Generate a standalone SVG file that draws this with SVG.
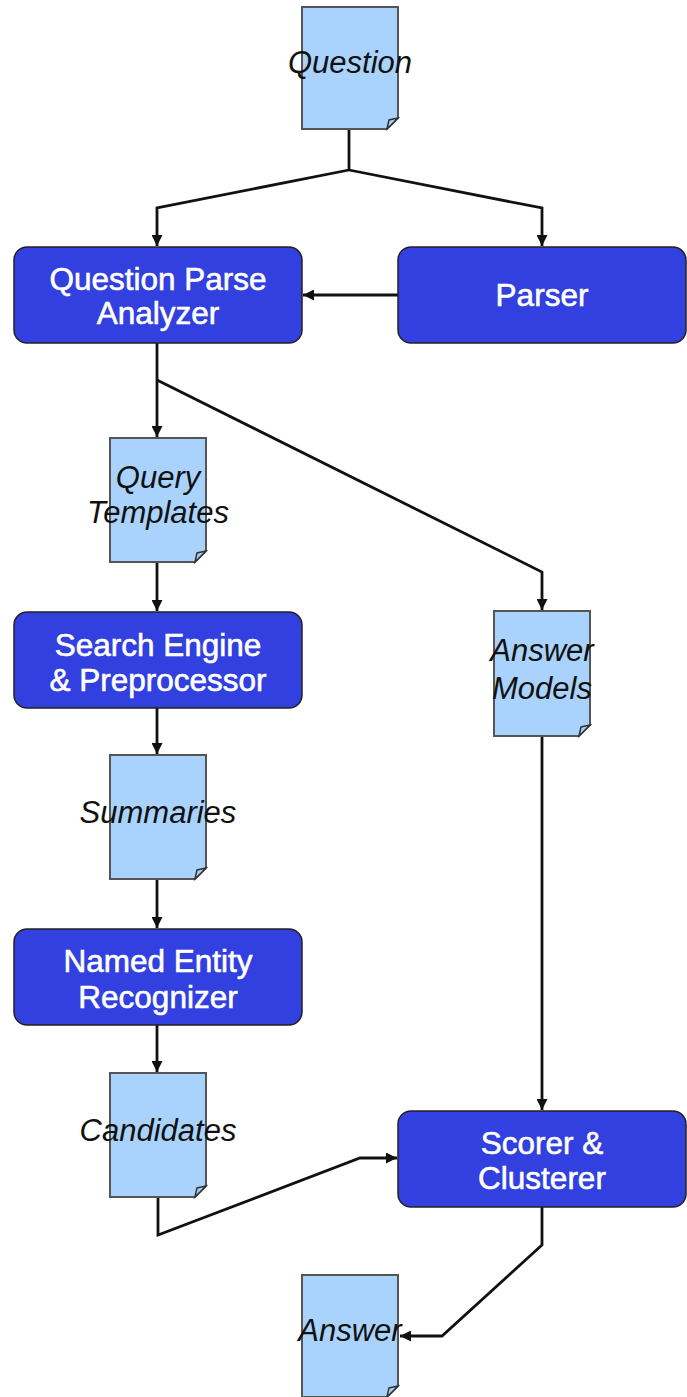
<svg xmlns="http://www.w3.org/2000/svg" width="687" height="1397" viewBox="0 0 687 1397">
<defs>
<marker id="arr" viewBox="0 0 10 10" refX="10" refY="5" markerWidth="11" markerHeight="11" markerUnits="userSpaceOnUse" orient="auto">
<path d="M0,0 L10,5 L0,10 Z" fill="#111"/>
</marker>
<style>
.box{fill:#3140df;stroke:#222;stroke-width:1.5}
.doc{fill:#a9d3fd;stroke:#555;stroke-width:2}
.fold{fill:#a9d3fd;stroke:#333;stroke-width:1.5}
.bt{font-family:"Liberation Sans",Arial,sans-serif;font-size:31.5px;fill:#fff;stroke:#fff;stroke-width:0.6;text-anchor:middle}
.dt{font-family:"Liberation Sans",Arial,sans-serif;font-size:31px;font-style:italic;fill:#111;text-anchor:middle}
.c{fill:none;stroke:#111;stroke-width:2.8;marker-end:url(#arr)}
.cn{fill:none;stroke:#111;stroke-width:2.8}
</style>
</defs>
<g id="connectors">
<path class="cn" d="M349,130 L349,170"/>
<path class="c" d="M349,170 L157,208 L157,246"/>
<path class="c" d="M349,170 L542,208 L542,246"/>
<path class="c" d="M398,295 L303,295"/>
<path class="c" d="M157,343 L157,437"/>
<path class="c" d="M157,380 L542,572 L542,610"/>
<path class="c" d="M157,563 L157,611"/>
<path class="c" d="M157,708 L157,754"/>
<path class="c" d="M157,880 L157,928"/>
<path class="c" d="M157,1025 L157,1072"/>
<path class="c" d="M542,737 L542,1110"/>
<path class="c" d="M158,1197 L158,1235 L360,1158 L397,1158"/>
<path class="c" d="M542,1207 L542,1245 L442,1336 L400,1336"/>
</g>
<g id="question">
<path class="doc" d="M302,7 L398,7 L398,118 L387,129 L302,129 Z"/>
<path class="fold" d="M398,118 L387,129 L389,120 Z"/>
<text class="dt" x="350" y="73">Question</text>
</g>
<g id="qpa">
<rect class="box" x="14" y="247" width="288" height="96" rx="13"/>
<text class="bt" x="158" y="290">Question Parse</text>
<text class="bt" x="158" y="324">Analyzer</text>
</g>
<g id="parser">
<rect class="box" x="398" y="247" width="288" height="96" rx="13"/>
<text class="bt" x="542" y="306">Parser</text>
</g>
<g id="query-templates">
<path class="doc" d="M110,438 L206,438 L206,551 L195,562 L110,562 Z"/>
<path class="fold" d="M206,551 L195,562 L197,553 Z"/>
<text class="dt" x="158" y="488">Query</text>
<text class="dt" x="158" y="523">Templates</text>
</g>
<g id="search-engine">
<rect class="box" x="14" y="612" width="288" height="96" rx="13"/>
<text class="bt" x="158" y="656">Search Engine</text>
<text class="bt" x="158" y="691">&amp; Preprocessor</text>
</g>
<g id="answer-models">
<path class="doc" d="M494,611 L590,611 L590,725 L579,736 L494,736 Z"/>
<path class="fold" d="M590,725 L579,736 L581,727 Z"/>
<text class="dt" x="542" y="661">Answer</text>
<text class="dt" x="542" y="699">Models</text>
</g>
<g id="summaries">
<path class="doc" d="M110,755 L206,755 L206,868 L195,879 L110,879 Z"/>
<path class="fold" d="M206,868 L195,879 L197,870 Z"/>
<text class="dt" x="158" y="823">Summaries</text>
</g>
<g id="ner">
<rect class="box" x="14" y="929" width="288" height="96" rx="13"/>
<text class="bt" x="158" y="972">Named Entity</text>
<text class="bt" x="158" y="1008">Recognizer</text>
</g>
<g id="candidates">
<path class="doc" d="M110,1073 L206,1073 L206,1186 L195,1197 L110,1197 Z"/>
<path class="fold" d="M206,1186 L195,1197 L197,1188 Z"/>
<text class="dt" x="158" y="1141">Candidates</text>
</g>
<g id="scorer">
<rect class="box" x="398" y="1111" width="288" height="96" rx="13"/>
<text class="bt" x="542" y="1154">Scorer &amp;</text>
<text class="bt" x="542" y="1189">Clusterer</text>
</g>
<g id="answer">
<path class="doc" d="M302,1275 L398,1275 L398,1386 L387,1397 L302,1397 Z"/>
<path class="fold" d="M398,1386 L387,1397 L389,1388 Z"/>
<text class="dt" x="350" y="1341">Answer</text>
</g>
</svg>
